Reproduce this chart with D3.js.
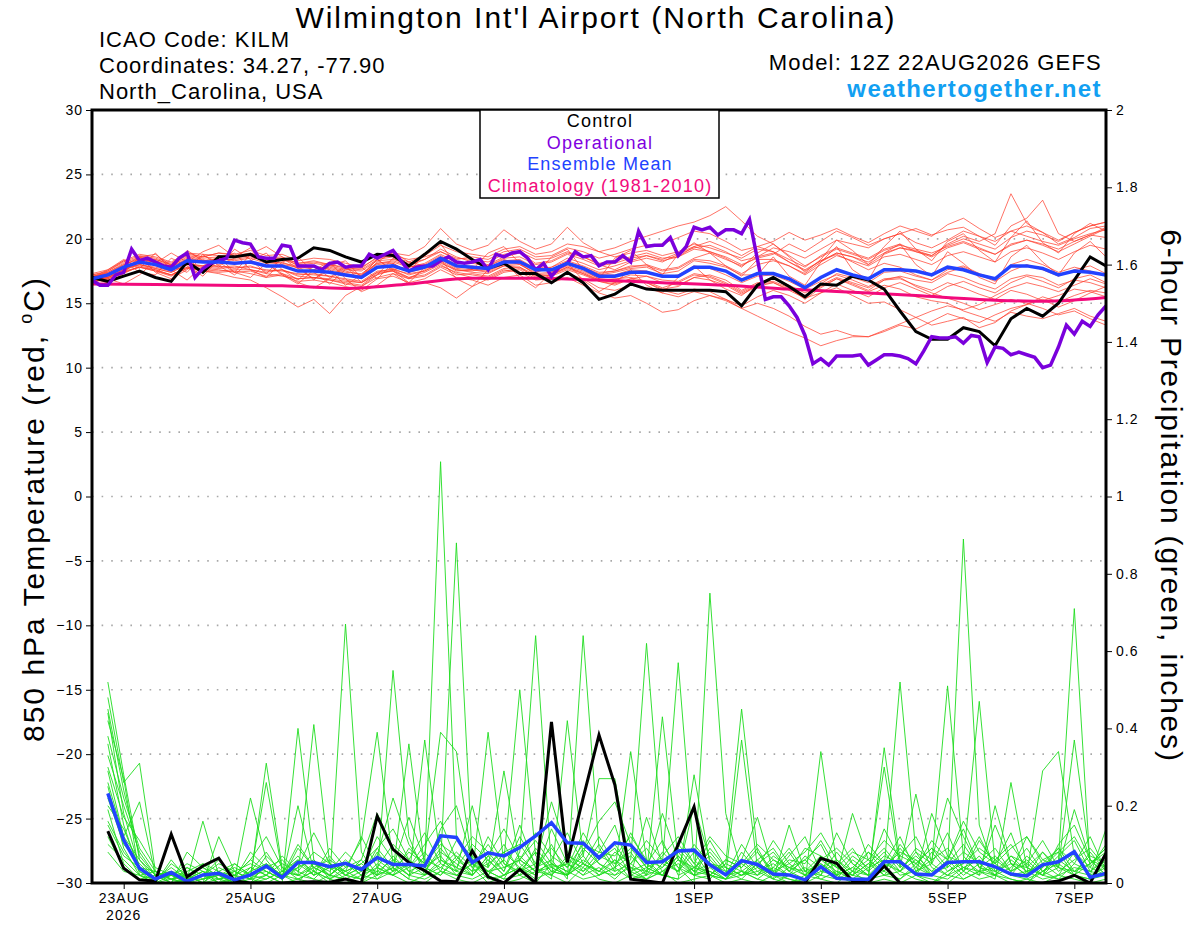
<!DOCTYPE html>
<html>
<head>
<meta charset="utf-8">
<script src="https://cdn.jsdelivr.net/npm/d3@7"></script>
<style>
  body { margin: 0; background: #fff; }
  svg { font-family: "Liberation Sans", Arial, sans-serif; }
</style>
</head>
<body>
<div id="chart"></div>
<script>
// ---- data ----
// run start / end (6-hourly steps, 12Z 22AUG2026 -> 12Z 07SEP2026)
const runStart = Date.UTC(2026, 7, 22, 12)
const runEnd = Date.UTC(2026, 8, 7, 12)
const dateTicks = ["2026-08-23", "2026-08-25", "2026-08-27", "2026-08-29", "2026-09-01", "2026-09-03", "2026-09-05", "2026-09-07"]
const tempTicks = [-30, -25, -20, -15, -10, -5, 0, 5, 10, 15, 20, 25, 30]
const precipTicks = [0, 0.2, 0.4, 0.6, 0.8, 1, 1.2, 1.4, 1.6, 1.8, 2]

// 850 hPa temperature, control run (6-hourly from 12Z 22AUG)
const controlTemp = [17.0,16.7,17.1,17.5,17.0,16.7,18.2,17.4,18.6,18.6,18.8,18.2,18.4,18.5,19.3,19.1,18.6,18.2,18.8,18.7,17.9,18.8,19.8,19.2,18.4,17.7,18.1,17.3,17.3,16.6,17.4,16.6,15.3,15.7,16.5,16.1,16.0,16.0,16.0,16.0,15.9,14.8,16.4,17.0,16.3,15.5,16.5,16.4,17.1,16.8,16.1,14.4,12.8,12.2,12.2,13.1,12.8,11.7,13.8,14.6,14.0,15.0,16.8,18.6,17.9]

// ensemble mean temperature
const meanTemp = [16.9,17.2,17.8,18.2,18.0,17.6,18.3,18.2,18.2,18.1,18.2,17.9,17.9,17.5,17.5,17.4,17.2,17.0,17.8,17.9,17.5,17.8,18.5,17.9,17.8,17.7,18.2,18.2,17.6,17.6,18.1,17.7,17.1,17.1,17.4,17.4,17.1,17.1,17.8,17.8,17.5,16.8,17.3,17.3,16.9,16.2,17.0,17.6,17.2,16.9,17.6,17.6,17.5,17.2,17.8,17.6,17.2,16.9,17.9,17.9,17.7,17.2,17.5,17.4,17.2]

// operational run temperature (3-hourly)
const operTemp = [16.8,16.4,16.4,17.2,17.4,19.2,18.3,18.5,18.2,17.9,17.8,18.5,18.9,17.0,17.7,18.1,18.3,18.5,19.9,19.7,19.6,18.6,18.5,18.5,19.5,19.4,17.9,17.9,17.9,17.6,18.1,18.2,17.8,17.9,17.9,18.8,18.5,18.8,19.1,18.3,17.5,17.8,17.9,
  17.9,18.3,18.6,18.2,18.1,18.2,18.4,17.6,18.8,18.6,18.9,19.0,18.5,17.6,18.1,17.1,17.8,18.1,19.0,18.6,18.7,17.9,18.2,18.2,18.7,18.2,20.6,19.4,19.5,19.5,20.1,18.7,19.4,20.9,20.7,20.9,20.3,20.7,20.7,20.4,21.5,
  18.4,15.3,15.5,15.5,14.8,13.9,12.5,10.3,10.7,10.2,10.9,10.9,10.9,11.0,10.2,10.6,11.0,11.0,10.9,10.7,10.3,11.3,12.4,12.3,12.3,12.4,11.9,12.5,12.4,10.4,11.6,11.5,11.0,11.2,11.0,10.8,10.0,10.2,11.6,13.3,12.6,13.6,13.2,14.1,14.8]

// climatology 1981-2010, daily at 12Z
const climTemp = [16.5,16.45,16.4,16.35,16.15,16.5,16.95,16.95,16.8,16.6,16.4,16.1,15.85,15.6,15.3,15.15,15.45]

// ensemble members temperature (6-hourly)
const memberTemp = [
  [16.8,17.0,17.6,18.4,18.3,17.9,18.6,18.4,18.0,18.5,18.7,18.2,18.0,17.8,17.9,17.6,17.3,17.1,18.1,18.3,17.9,18.4,19.2,18.6,18.2,18.0,18.6,18.9,18.1,18.3,18.9,18.6,18.0,17.6,18.2,18.5,18.2,18.8,19.3,19.5,19.0,18.3,18.6,18.9,18.2,17.5,18.3,18.9,18.6,18.0,18.8,19.3,19.1,18.7,19.6,20.2,19.8,20.4,23.5,21.2,20.5,19.6,20.1,20.8,21.0],
  [17.1,17.3,17.9,18.6,18.1,18.9,18.2,19.0,19.5,18.6,19.3,18.1,17.3,16.6,16.2,16.9,17.8,17.1,18.4,17.5,16.9,17.6,18.3,17.6,17.5,17.9,18.4,18.0,17.4,17.8,18.5,18.1,17.6,17.9,18.3,18.7,18.4,18.9,19.4,19.0,18.6,18.0,18.5,18.8,19.6,19.0,19.8,20.6,20.1,19.5,20.0,20.4,19.7,19.3,19.9,20.6,20.2,19.5,21.0,21.6,23.0,20.4,19.8,20.3,20.9],
  [16.7,16.9,17.3,17.9,17.6,17.2,17.8,17.5,17.3,17.0,16.8,16.2,15.5,14.7,15.3,14.2,15.6,16.3,17.2,17.6,17.0,17.4,18.0,17.3,17.0,16.8,17.4,17.6,16.9,17.1,17.6,17.2,16.7,16.4,16.9,17.1,16.6,16.4,17.0,17.2,16.8,16.0,16.6,16.7,16.2,15.3,16.2,16.9,16.5,16.0,16.8,17.1,16.8,16.6,17.3,17.0,16.5,16.1,16.9,17.2,17.0,16.4,16.8,16.6,16.2],
  [17.0,17.4,18.1,18.6,18.4,18.0,18.8,18.6,18.9,18.7,18.9,18.5,18.6,18.1,18.3,18.0,17.7,17.6,18.4,18.6,18.2,18.7,19.5,19.0,18.8,18.6,19.2,19.4,18.8,19.0,19.6,19.4,19.0,19.3,19.8,20.2,20.6,21.0,21.3,21.8,22.5,21.4,20.2,19.6,18.7,17.9,18.6,19.2,18.8,18.4,19.1,19.5,19.2,18.9,19.4,19.8,19.3,18.8,19.6,19.9,19.5,19.0,19.6,20.2,20.8],
  [16.9,17.1,17.7,18.0,17.8,17.5,18.1,17.9,17.8,17.9,17.6,17.4,17.6,17.1,17.0,16.8,16.6,16.4,17.3,17.5,17.0,17.2,17.9,17.4,17.2,17.0,17.6,17.4,16.8,16.9,17.3,16.9,16.2,16.0,16.4,16.2,15.8,15.5,15.9,15.6,15.2,14.6,14.0,13.4,12.8,12.3,11.7,12.1,12.4,12.4,12.8,13.3,13.0,13.6,14.2,13.8,13.5,14.1,14.6,14.9,15.5,15.1,15.6,16.0,15.8],
  [16.6,16.9,16.5,17.2,18.3,17.6,16.8,17.9,18.6,17.4,17.0,18.1,17.2,16.5,17.6,18.2,16.9,15.9,16.4,17.3,16.5,16.6,16.2,15.4,16.3,16.9,17.5,17.7,17.1,17.2,17.7,17.3,16.8,16.9,17.0,16.7,16.2,16.6,17.2,17.0,16.5,15.8,16.4,16.9,16.3,15.6,16.5,17.3,17.0,16.6,17.4,17.5,17.1,16.8,17.6,17.9,17.3,16.9,18.0,18.4,18.0,17.4,17.8,17.5,17.1],
  [17.2,17.5,18.2,18.7,18.5,18.1,18.9,18.8,18.7,18.6,18.8,18.4,18.5,18.1,18.2,18.0,17.8,17.7,18.6,18.9,18.7,19.4,20.8,19.6,19.1,19.5,20.7,19.8,19.2,19.6,20.9,19.7,19.0,18.6,18.9,19.1,18.7,19.0,19.6,19.3,18.9,18.5,19.2,19.0,18.4,17.8,18.7,19.3,18.9,18.5,19.2,19.6,19.0,18.6,19.3,19.7,19.2,18.8,19.5,19.9,19.6,19.2,19.8,20.3,20.1],
  [16.8,17.0,17.5,17.8,17.5,17.1,17.7,17.5,17.4,17.5,17.3,17.0,17.2,16.7,16.8,16.6,16.3,16.0,16.9,17.1,16.6,16.9,17.6,17.0,16.8,16.4,17.0,17.2,16.4,16.6,17.0,16.4,15.8,15.4,15.6,15.0,14.3,14.5,15.2,15.6,15.3,14.8,15.5,16.0,15.6,15.0,15.8,16.5,16.0,15.5,16.2,16.6,16.1,15.6,16.3,16.7,16.2,15.8,16.6,17.1,16.7,16.2,16.9,17.2,16.6],
  [17.0,17.6,18.4,17.7,18.9,17.6,19.1,18.3,17.8,19.2,18.4,17.3,18.5,17.7,16.9,17.6,16.4,17.2,18.4,17.6,17.9,17.8,18.6,17.8,17.9,17.7,18.3,18.4,17.7,17.5,18.0,17.8,17.3,17.5,17.8,18.0,17.6,17.8,18.5,18.9,18.4,17.9,18.6,19.3,19.0,18.5,19.2,19.9,19.6,19.3,20.0,20.4,20.8,20.3,20.7,20.9,20.2,19.8,20.6,21.0,20.5,19.9,20.5,21.0,21.3],
  [16.7,17.0,17.6,18.0,17.7,17.4,18.0,17.9,17.9,17.7,17.9,17.5,17.6,17.2,17.3,17.1,16.9,16.7,17.5,17.6,17.3,17.5,18.2,17.5,17.6,17.4,17.9,18.0,17.3,17.4,17.9,17.5,16.9,16.8,17.2,17.1,16.8,16.7,17.3,17.1,16.6,15.9,16.5,16.6,16.0,15.4,15.8,16.2,15.6,15.0,15.1,14.5,13.9,13.3,13.6,13.9,13.1,13.5,14.4,14.9,15.3,14.7,15.2,15.8,16.3],
  [17.3,17.6,18.3,18.8,18.6,18.2,18.9,18.6,18.9,18.8,19.1,18.7,18.8,18.3,18.5,18.4,18.1,17.8,18.5,18.7,18.4,18.6,19.0,18.5,18.4,18.2,18.8,19.0,18.4,18.5,19.0,18.6,18.1,18.3,18.6,18.9,18.5,18.6,19.2,19.0,18.5,17.8,18.9,19.6,18.6,17.4,18.4,19.9,19.1,18.0,19.4,20.6,19.2,18.3,19.8,20.4,19.1,18.2,20.1,21.4,19.7,18.9,20.4,21.2,20.6],
  [16.9,16.6,17.3,18.6,17.4,16.9,17.6,18.8,17.9,17.2,18.3,18.9,17.6,16.8,17.9,17.0,17.9,16.6,17.2,18.5,17.8,18.0,18.7,18.0,17.7,17.6,18.2,18.3,17.5,17.6,18.2,17.8,17.2,17.2,17.6,17.5,17.0,17.2,17.9,17.7,17.2,16.6,17.1,17.2,16.7,16.1,16.7,17.2,16.8,16.3,16.9,17.0,16.3,15.8,15.4,15.0,14.5,14.9,15.3,15.0,14.6,14.1,14.4,13.8,13.3],
  [17.1,17.3,17.8,18.3,18.2,17.8,18.4,18.3,18.5,18.3,18.5,18.1,18.2,17.7,17.8,17.7,17.4,17.3,18.1,18.2,17.8,18.1,18.8,18.2,18.1,17.9,18.5,18.6,18.0,18.2,18.8,18.4,17.9,18.1,18.5,18.7,18.3,18.6,19.4,19.8,19.3,18.7,19.4,19.8,20.5,19.9,20.3,20.8,20.2,19.7,20.4,21.0,20.6,20.2,21.1,21.6,20.8,20.1,20.6,20.2,19.8,19.5,20.0,20.4,20.7],
  [16.8,17.0,17.4,17.8,17.6,17.2,17.8,17.7,17.6,17.4,17.5,17.1,17.3,16.9,17.0,16.8,16.5,16.3,17.0,17.3,16.9,17.1,17.8,17.2,17.3,17.1,17.7,17.8,17.2,17.3,17.8,17.4,16.8,16.6,16.8,16.6,16.0,15.7,16.1,15.9,15.3,14.6,15.0,14.6,14.0,13.2,12.6,12.9,12.5,12.4,12.9,13.4,13.9,14.4,14.8,14.5,14.9,15.6,16.2,16.6,16.3,15.9,16.4,16.9,16.5],
  [17.0,17.3,18.0,18.4,18.2,17.8,18.5,18.3,18.4,18.4,18.6,18.3,18.1,17.9,17.6,17.8,17.5,17.2,18.0,18.1,17.4,18.9,19.6,18.0,17.6,18.9,19.4,18.1,17.2,18.6,19.2,17.6,16.9,18.5,19.1,18.0,17.2,18.8,19.7,18.9,17.9,17.1,18.4,18.4,17.9,17.2,18.0,18.7,18.3,17.9,18.6,18.8,18.4,18.0,18.7,19.0,18.6,18.2,19.0,19.3,18.9,18.4,19.0,19.5,19.2],
  [16.9,17.5,18.3,17.4,17.2,18.5,17.9,17.1,18.4,18.9,17.6,17.0,18.2,18.6,17.4,16.5,17.6,17.8,16.9,18.1,17.4,17.7,18.4,17.7,17.6,17.5,18.0,18.1,17.5,17.6,18.2,17.7,17.2,17.4,17.7,17.8,17.3,17.5,18.3,18.1,17.8,17.2,17.2,18.6,17.1,16.4,18.2,19.4,17.6,16.8,18.9,19.6,18.0,17.1,19.0,18.1,17.0,16.5,18.6,19.5,18.2,17.2,18.9,19.8,18.6],
  [16.7,16.9,17.4,17.8,17.5,17.2,17.7,17.6,17.5,17.6,17.6,17.3,17.1,16.9,17.0,16.9,16.7,16.6,17.4,17.5,16.6,17.8,18.4,16.9,16.3,17.6,18.2,17.0,16.2,17.4,18.1,16.8,15.9,16.6,17.6,16.4,15.8,17.0,17.9,16.8,16.1,15.6,16.5,17.0,16.4,15.8,16.4,17.0,16.6,16.2,16.8,16.9,16.4,16.0,16.6,16.2,15.7,15.3,16.0,15.7,15.2,15.6,16.1,15.9,15.5],
  [17.2,17.4,18.0,18.5,18.4,18.0,18.7,18.5,18.6,18.6,18.7,18.4,18.4,18.0,18.1,17.9,17.6,17.5,18.3,18.4,18.1,18.4,19.0,18.4,18.6,18.4,19.0,19.2,18.6,18.7,19.3,19.0,18.5,18.8,19.2,19.5,19.6,20.1,20.6,20.4,19.8,19.1,19.4,19.0,18.2,17.6,18.3,18.8,18.2,17.6,18.1,17.8,17.2,16.8,17.4,17.8,17.2,16.7,17.5,18.0,17.6,17.1,17.6,17.9,17.3],
  [16.8,17.1,17.6,18.0,17.7,17.4,18.0,17.8,17.7,17.8,17.8,17.6,17.5,17.3,17.2,17.1,16.8,16.6,17.4,17.7,17.2,17.5,18.1,17.6,17.4,17.3,17.9,17.8,17.0,17.2,17.8,17.3,16.7,16.5,16.9,16.6,16.1,16.3,17.0,16.8,16.4,15.7,16.3,16.6,16.1,15.5,16.3,16.9,16.4,15.9,16.4,16.1,15.5,15.2,15.0,14.4,14.0,13.6,14.3,14.0,13.8,14.2,14.6,14.0,13.6],
  [17.1,16.8,17.4,18.6,18.8,17.9,17.4,18.7,18.2,17.4,18.8,19.4,18.6,17.9,16.8,17.9,18.3,17.0,18.2,19.0,18.2,17.9,18.6,17.9,17.8,17.7,18.3,18.3,17.7,17.8,18.3,17.9,17.4,17.5,17.9,17.9,17.5,17.7,18.4,18.3,17.9,17.3,18.0,18.3,17.9,17.3,18.2,18.9,18.6,18.2,18.9,19.3,19.0,18.7,19.5,20.0,19.6,19.2,20.1,20.6,20.3,19.8,20.5,21.0,21.3]
]

// 6-hour precipitation (inches), valid 18Z 22AUG onward
const controlPrecip = [.134,.038,.008,.005,.126,.016,.044,.064, .005,0,0,0,.002,.003,.002,.01, 0,.173,.087,.053,.032,.005,.003,.083, .016,0,.035,0,.417,.053,.22,.383, .254,.01,.005,0,.1,.197,0,0, 0,0,0,0,0,.064,.051,.005, 0,.044,0,0,0,0,0,0, 0,0,0,0,.005,.02,0,.077]

const meanPrecip = [.232,.111,.038,.01,.027,.004,.021,.025, .008,.021,.044,.014,.053,.053,.042,.051, .035,.066,.048,.048,.044,.122,.118,.053, .078,.07,.092,.122,.156,.104,.103,.065, .104,.098,.053,.055,.083,.085,.047,.021, .058,.048,.023,.021,.008,.042,.012,.01, .01,.055,.055,.023,.021,.053,.055,.055, .042,.023,.018,.047,.055,.081,.015,.025]

const memberPrecip = [
  [.52,.28,.06,.01,.02,0,0,.01, 0,.03,.08,.02,0,.05,.02,.01, 0,.04,.02,.09,.05,1.09,.12,.04, 0,.02,.06,.03,.10,.02,.05,.03, .06,.01,.02,.08,.04,0,.75,.18, .03,.01,0,.02,.04,.01,0,.03, .06,.02,.01,.05,.09,.04,.89,.15, .03,.01,0,.04,.08,.02,.01,.05],
  [.48,.26,.31,.03,0,.01,.16,.02, 0,0,.02,0,.40,.06,.01,.03, .05,.02,.55,.12,.02,.05,.88,.06, .03,.01,.08,.64,.04,.02,.11,.05, .02,.06,.62,.10,.04,.02,.01,.05, .45,.08,.02,0,.01,.07,.02,0, .01,.35,.06,.02,0,.03,.06,.47, .05,.02,.01,.03,.06,.71,.04,.02],
  [.44,.18,.04,0,.05,.02,0,.12, .03,.01,.31,.04,.02,.41,.05,.02, .01,.08,.03,.36,.04,.02,.07,.02, .39,.05,.02,.04,.01,.42,.07,.27, .27,.03,.01,.05,.57,.06,.02,.01, .06,.17,.03,.01,0,.34,.05,.01, 0,.04,.52,.08,.02,.01,.04,.03, .01,.26,.04,.02,.01,.05,.12,.03],
  [.42,.27,.02,.01,.03,0,.05,.03, .01,.22,.06,.01,.20,.03,0,.67, .08,.02,.04,.01,.37,.06,.03,.20, .04,.29,.05,.02,.06,.01,.64,.09, .03,.34,.06,.02,.01,.28,.05,.02, .37,.04,.01,.15,.03,.02,.13,.05, .02,.30,.04,.23,.05,.51,.07,.02, .20,.05,.02,.29,.34,.07,.02,.14],
  [.29,.12,.21,.02,0,.04,.02,0, .05,.02,.26,.03,.06,.02,.09,.04, .11,.39,.05,.02,.07,.39,.34,.05, .02,.06,.50,.07,.03,.02,.05,.12, .05,.08,.02,.43,.06,.03,.11,.04, .02,.06,.09,.03,.01,.05,.02,.18, .06,.03,.09,.04,.11,.06,.02,.05, .09,.03,.06,.02,.04,.37,.06,.02],
  [.25,.09,.02,0,.06,.01,.03,.02, 0,.04,.02,.07,.03,.01,.05,.02, .04,.06,.03,.05,.02,.06,.04,.10, .06,.02,.04,.08,.03,.05,.02,.04, .01,.05,.09,.03,.07,.02,.04,.01, .05,.02,.07,.04,.02,.06,.03,.01, .04,.08,.03,.06,.02,.05,.10,.04, .02,.07,.03,.05,.09,.03,.05,.08],
  [.19,.05,.01,.02,0,.08,.04,.01, .02,.06,.03,.01,.09,.04,.02,.06, .02,.09,.14,.06,.03,.08,.05,.02, .07,.03,.12,.05,.09,.04,.13,.06, .10,.04,.03,.07,.12,.05,.02,.06, .04,.09,.02,.06,.05,.11,.04,.02, .08,.05,.12,.03,.06,.09,.04,.02, .06,.10,.04,.08,.03,.06,.09,.04],
  [.36,.15,.03,.01,.02,.02,0,.04, .02,0,.05,.02,.04,.13,.05,.03, .01,.05,.02,.04,.10,.16,.06,.03, .12,.05,.03,.08,.02,.06,.04,.10, .04,.13,.05,.02,.09,.04,.03,.01, .08,.03,.05,.02,.07,.04,.01,.06, .03,.07,.05,.02,.08,.03,.05,.12, .04,.02,.07,.03,.05,.02,.08,.03],
  [.15,.07,.04,.03,.01,0,.02,.05, .03,.01,.04,.06,.02,.05,.03,.08, .04,.02,.07,.03,.05,.11,.03,.06, .02,.08,.04,.02,.14,.05,.03,.08, .15,.02,.04,.06,.03,.10,.05,.03, .01,.05,.03,.08,.02,.04,.06,.02, .05,.02,.07,.12,.04,.02,.06,.03, .15,.05,.02,.06,.04,.02,.05,.09],
  [.22,.10,.05,.01,.04,.01,.01,.02, .04,.02,.01,.03,.07,.02,.04,.01, .03,.12,.06,.02,.04,.07,.02,.05, .03,.04,.06,.11,.05,.03,.07,.02, .06,.03,.05,.11,.02,.04,.07,.02, .03,.06,.01,.04,.06,.02,.08,.03, .02,.06,.03,.08,.05,.13,.03,.07, .02,.04,.09,.03,.07,.11,.03,.06],
  [.33,.20,.08,.02,.01,.03,.05,.01, .02,.06,.12,.04,.01,.03,.07,.02, .06,.18,.09,.03,.02,.14,.20,.06, .04,.10,.03,.05,.21,.08,.03,.06, .09,.02,.17,.05,.03,.20,.06,.02, .10,.04,.02,.07,.12,.03,.05,.09, .03,.14,.06,.02,.18,.07,.03,.11, .05,.13,.02,.08,.04,.19,.06,.02],
  [.20,.14,.04,.01,.02,.05,.03,0, .01,.03,.05,.02,.10,.04,.02,.05, .03,.07,.22,.10,.04,.02,.06,.12, .08,.03,.15,.04,.06,.13,.05,.02, .04,.07,.03,.18,.06,.02,.09,.04, .02,.05,.08,.03,.06,.10,.02,.04, .08,.03,.10,.05,.02,.06,.14,.04, .07,.03,.12,.05,.02,.08,.04,.10],
  [.10,.06,.02,.03,.01,.02,0,.03, .05,.02,.03,.01,.05,.02,.04,.03, .12,.04,.02,.05,.03,.09,.04,.02, .06,.02,.07,.03,.04,.02,.09,.05, .03,.05,.02,.04,.08,.03,.02,.05, .03,.02,.06,.04,.03,.05,.02,.07, .04,.06,.02,.03,.05,.02,.04,.06, .03,.05,.04,.02,.06,.03,.02,.04],
  [.26,.12,.06,.02,.03,.01,.02,.06, .02,.04,.02,.05,.03,.08,.05,.02, .04,.03,.06,.04,.08,.03,.11,.07, .03,.06,.02,.09,.04,.05,.02,.07, .05,.09,.04,.02,.06,.04,.08,.03, .06,.02,.04,.09,.03,.07,.04,.02, .05,.09,.04,.07,.03,.04,.08,.05, .02,.06,.03,.04,.09,.05,.03,.07],
  [.16,.08,.03,0,.02,.04,.01,.02, 0,.01,.02,0,.01,0,.02,.01, 0,.02,.04,.01,0,.03,.01,0, .02,0,.01,.03,.02,0,.04,.01, 0,.02,.01,.03,0,.01,.02,0, .01,0,.02,.01,0,.02,.01,.03, 0,.01,0,.02,.01,0,.03,.01, .02,0,.01,0,.02,.01,0,.01],
  [.38,.22,.09,.03,.01,0,.02,.01, .03,.05,.03,.01,.04,.06,.02,.05, .02,.04,.10,.06,.13,.05,.03,.02, .07,.14,.06,.03,.05,.02,.08,.16, .21,.10,.04,.02,.07,.03,.05,.04, .02,.04,.11,.05,.08,.13,.06,.03, .10,.05,.03,.09,.06,.22,.12,.04, .03,.07,.05,.02,.10,.15,.06,.04],
  [.12,.04,.01,0,.01,.02,0,0, .01,0,.01,.03,.02,.01,0,.02, .01,.03,.02,0,.02,.04,.02,.01, .03,.01,.02,0,.05,.03,.01,.02, .04,.01,.03,.02,.01,.04,.02,.01, .02,.03,.01,0,.02,.01,.03,.02, .01,.02,.03,.01,0,.02,.01,.03, .02,.01,0,.03,.01,.02,.01,.02],
  [.30,.17,.11,.04,.02,0,.01,.03, .01,.08,.04,.02,.06,.03,.01,.04, .06,.01,.03,.08,.05,.10,.07,.03, .05,.08,.10,.04,.02,.07,.05,.03, .08,.05,.11,.06,.03,.08,.02,.06, .04,.08,.03,.05,.02,.06,.09,.05, .02,.04,.08,.06,.03,.07,.05,.09, .06,.03,.05,.11,.04,.03,.07,.05],
  [.08,.03,.02,0,0,.01,.03,0, .02,.01,0,.02,.01,.03,.01,0, .02,.01,.05,.02,.01,.03,.02,.05, .01,.02,.04,.01,.03,.02,.06,.03, .02,.04,.01,.03,.05,.02,.03,.01, .03,.01,.04,.02,.01,.03,.02,.04, .02,.03,.01,.04,.02,.05,.01,.03, .04,.02,.03,.01,.02,.04,.03,.02],
  [.45,.24,.07,.02,.03,.02,.04,.02, .03,.01,.07,.03,.02,.04,.06,.03, .05,.09,.04,.17,.06,.04,.08,.04, .10,.04,.06,.13,.07,.04,.10,.08, .07,.12,.06,.04,.10,.05,.12,.07, .05,.10,.06,.03,.09,.07,.04,.08, .06,.11,.07,.05,.09,.06,.16,.08, .05,.09,.12,.06,.08,.12,.05,.09]
]

// ---- layout ----
const W = 1200, H = 927
const plot = { left: 92, right: 1106, top: 110, bottom: 883 }

const svg = d3.select("#chart").append("svg")
  .attr("width", W)
  .attr("height", H)

// scales
const x = d3.scaleUtc().domain([runStart, runEnd]).range([plot.left, plot.right])
const yTemp = d3.scaleLinear().domain([-30, 30]).range([plot.bottom, plot.top])
const yPrecip = d3.scaleLinear().domain([0, 2]).range([plot.bottom, plot.top])

const hours = h => new Date(runStart + h * 3600e3)

svg.append("clipPath").attr("id", "plot-clip")
  .append("rect")
  .attr("x", plot.left).attr("y", plot.top)
  .attr("width", plot.right - plot.left).attr("height", plot.bottom - plot.top)

// dotted grid at temperature ticks
svg.append("g")
  .selectAll("line")
  .data(tempTicks.filter(d => d > -30 && d < 30))
  .enter().append("line")
  .attr("x1", plot.left).attr("x2", plot.right)
  .attr("y1", d => yTemp(d)).attr("y2", d => yTemp(d))
  .attr("stroke", "#a8a8a8")
  .attr("stroke-width", 1.6)
  .attr("stroke-dasharray", "1.6,8")

const g = svg.append("g").attr("clip-path", "url(#plot-clip)")

// line generators
const line6 = d3.line().x((d, i) => x(hours(i * 6))).y(d => yTemp(d))
const line3 = d3.line().x((d, i) => x(hours(i * 3))).y(d => yTemp(d))
const lineClim = d3.line().x((d, i) => x(hours(i * 24))).y(d => yTemp(d)).curve(d3.curveMonotoneX)
const lineP = d3.line().x((d, i) => x(hours((i + 1) * 6))).y(d => yPrecip(d))

// precipitation members
g.append("g").selectAll("path")
  .data(memberPrecip)
  .enter().append("path")
  .attr("d", lineP)
  .attr("fill", "none")
  .attr("stroke", "#1fdc1f")
  .attr("stroke-width", 0.9)

// temperature members
g.append("g").selectAll("path")
  .data(memberTemp)
  .enter().append("path")
  .attr("d", line6)
  .attr("fill", "none")
  .attr("stroke", "#ff3a2a")
  .attr("stroke-opacity", 0.8)
  .attr("stroke-width", 0.9)

// climatology
g.append("path").datum(climTemp)
  .attr("d", lineClim)
  .attr("fill", "none")
  .attr("stroke", "#f20a7c")
  .attr("stroke-width", 3)

// control
g.append("path").datum(controlPrecip)
  .attr("d", lineP)
  .attr("fill", "none").attr("stroke", "#000").attr("stroke-width", 3)
g.append("path").datum(controlTemp)
  .attr("d", line6)
  .attr("fill", "none").attr("stroke", "#000").attr("stroke-width", 3)

// operational
g.append("path").datum(operTemp)
  .attr("d", line3)
  .attr("fill", "none").attr("stroke", "#7a00dc").attr("stroke-width", 3.5)

// ensemble mean
g.append("path").datum(meanPrecip)
  .attr("d", lineP)
  .attr("fill", "none").attr("stroke", "#2242ff").attr("stroke-width", 3.5)
g.append("path").datum(meanTemp)
  .attr("d", line6)
  .attr("fill", "none").attr("stroke", "#2242ff").attr("stroke-width", 3.5)

// axes
function styleAxis(sel) {
  sel.select(".domain").remove()
  sel.selectAll(".tick line").attr("stroke", "#000").attr("stroke-width", 1)
  sel.selectAll(".tick text").attr("fill", "#000")
    .style("font-family", "'Liberation Sans', Arial, sans-serif")
    .style("font-size", "14px")
    .style("letter-spacing", "1px")
}

svg.append("g")
  .attr("transform", `translate(${plot.left},0)`)
  .call(d3.axisLeft(yTemp).tickValues(tempTicks).tickSize(6).tickPadding(3))
  .call(styleAxis)

svg.append("g")
  .attr("transform", `translate(${plot.right},0)`)
  .call(d3.axisRight(yPrecip).tickValues(precipTicks).tickSize(6).tickPadding(4)
    .tickFormat(d => String(+d.toFixed(1))))
  .call(styleAxis)

const dayFmt = d3.utcFormat("%-d%b")
svg.append("g")
  .attr("transform", `translate(0,${plot.bottom})`)
  .call(d3.axisBottom(x).tickValues(dateTicks.map(d => new Date(d + "T00:00:00Z")))
    .tickSize(6).tickPadding(4)
    .tickFormat(d => dayFmt(d).toUpperCase()))
  .call(styleAxis)

svg.append("text")
  .attr("x", x(new Date("2026-08-23T00:00:00Z")))
  .attr("y", 920)
  .attr("text-anchor", "middle")
  .style("font-size", "14px")
  .style("letter-spacing", "1px")
  .text("2026")

// frame
svg.append("rect")
  .attr("x", plot.left).attr("y", plot.top)
  .attr("width", plot.right - plot.left).attr("height", plot.bottom - plot.top)
  .attr("fill", "none").attr("stroke", "#000").attr("stroke-width", 3)

// legend
const legend = svg.append("g")
legend.append("rect")
  .attr("x", 480).attr("y", 110).attr("width", 239).attr("height", 88)
  .attr("fill", "#fff").attr("stroke", "#000").attr("stroke-width", 1.5)
const legendItems = [
  { label: "Control", color: "#000" },
  { label: "Operational", color: "#8000e0" },
  { label: "Ensemble Mean", color: "#2242ff" },
  { label: "Climatology (1981-2010)", color: "#f20a7c" }
]
legend.selectAll("text.item")
  .data(legendItems)
  .enter().append("text")
  .attr("class", "item")
  .attr("x", 600)
  .attr("y", (d, i) => 127 + i * 21.5)
  .attr("text-anchor", "middle")
  .attr("fill", d => d.color)
  .style("font-size", "18px")
  .style("letter-spacing", "1.2px")
  .text(d => d.label)

// titles
svg.append("text")
  .attr("x", 596).attr("y", 28)
  .attr("text-anchor", "middle")
  .style("font-size", "30px")
  .style("letter-spacing", "2px")
  .text("Wilmington Int'l Airport (North Carolina)")

const info = ["ICAO Code: KILM", "Coordinates: 34.27, -77.90", "North_Carolina, USA"]
svg.selectAll("text.info")
  .data(info)
  .enter().append("text")
  .attr("class", "info")
  .attr("x", 99)
  .attr("y", (d, i) => 47 + i * 26)
  .style("font-size", "22px")
  .style("letter-spacing", "1px")
  .text(d => d)

svg.append("text")
  .attr("x", 1102).attr("y", 70)
  .attr("text-anchor", "end")
  .style("font-size", "22px")
  .style("letter-spacing", "1.2px")
  .text("Model: 12Z 22AUG2026 GEFS")

svg.append("text")
  .attr("x", 1102).attr("y", 97)
  .attr("text-anchor", "end")
  .attr("fill", "#12a0f2")
  .style("font-size", "24px")
  .style("font-weight", "bold")
  .style("letter-spacing", "1.4px")
  .text("weathertogether.net")

// axis titles
const leftTitle = svg.append("text")
  .attr("transform", "translate(44,509) rotate(-90)")
  .attr("text-anchor", "middle")
  .style("font-size", "30px")
  .style("letter-spacing", "2px")
leftTitle.append("tspan").text("850 hPa Temperature (red, ")
leftTitle.append("tspan").attr("dy", -12).style("font-size", "18px").text("o")
leftTitle.append("tspan").attr("dy", 12).text("C)")

svg.append("text")
  .attr("transform", "translate(1161,496) rotate(90)")
  .attr("text-anchor", "middle")
  .style("font-size", "30px")
  .style("letter-spacing", "1.8px")
  .text("6-hour Precipitation (green, inches)")
</script>
</body>
</html>
